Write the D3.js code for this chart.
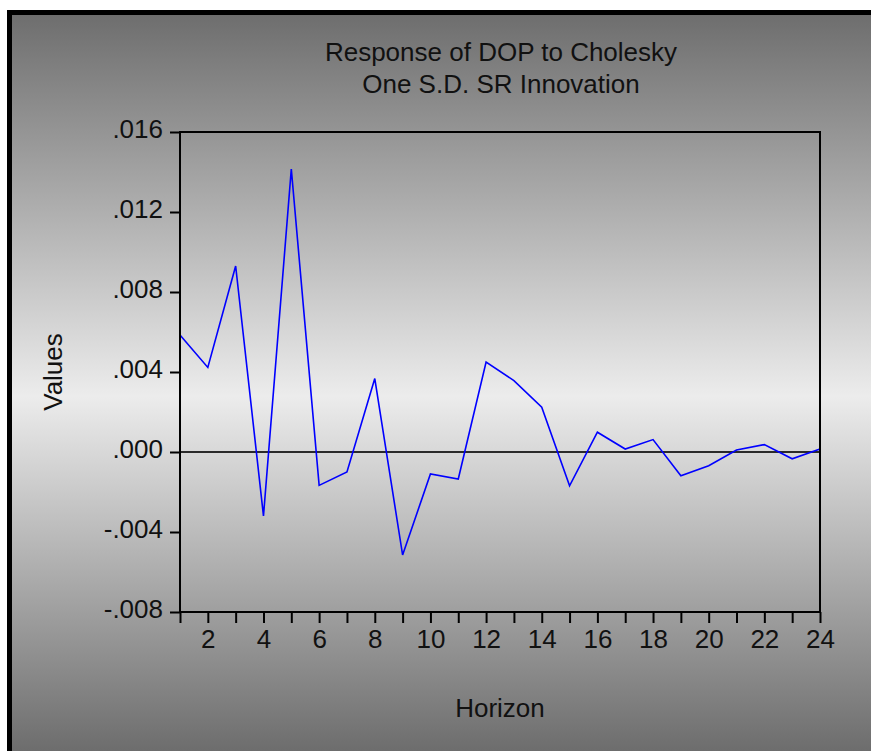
<!DOCTYPE html>
<html>
<head>
<meta charset="utf-8">
<script src="https://cdn.jsdelivr.net/npm/d3@7/dist/d3.min.js"></script>
<style>
  html, body { margin: 0; padding: 0; background: #ffffff; }
  svg { display: block; }
  text { font-family: "Liberation Sans", Arial, sans-serif; fill: #111; }
</style>
</head>
<body>
<svg id="chart" width="871" height="751"></svg>
<script>
// Impulse response of DOP to a one S.D. SR shock, horizons 1..24
const horizons = d3.range(1, 25);
const responses = [
  0.00585, 0.00423, 0.0093, -0.0032, 0.01415, -0.00167, -0.0010, 0.00367,
  -0.00515, -0.0011, -0.00135, 0.0045, 0.00357, 0.00224, -0.00169, 0.00099,
  0.00015, 0.00062, -0.00119, -0.00069, 0.0001, 0.00037, -0.00034, 0.00015
];
const yTicks = [-0.008, -0.004, 0, 0.004, 0.008, 0.012, 0.016];
const xLabelTicks = [2, 4, 6, 8, 10, 12, 14, 16, 18, 20, 22, 24];
const titleLines = ["Response of DOP to Cholesky", "One S.D. SR Innovation"];
const xTitle = "Horizon";
const yTitle = "Values";

const svg = d3.select("#chart");
const W = 871, H = 751;
const FS = 26;

// grey panel with vertical gradient (dark - light - dark)
const defs = svg.append("defs");
const grad = defs.append("linearGradient")
  .attr("id", "panelGrad")
  .attr("gradientUnits", "userSpaceOnUse")
  .attr("x1", 0).attr("y1", 12).attr("x2", 0).attr("y2", 751);
grad.append("stop").attr("offset", "0%").attr("stop-color", "#6d6d6d");
grad.append("stop").attr("offset", "52%").attr("stop-color", "#ececec");
grad.append("stop").attr("offset", "100%").attr("stop-color", "#6d6d6d");

svg.append("rect")
  .attr("x", 7).attr("y", 10).attr("width", W).attr("height", H)
  .attr("fill", "#000");
svg.append("rect")
  .attr("x", 12).attr("y", 15).attr("width", W).attr("height", H)
  .attr("fill", "url(#panelGrad)");

// plot frame
const plot = { left: 180, right: 820, top: 132, bottom: 612 };

const x = d3.scaleLinear().domain([1, 24]).range([plot.left, plot.right]);
const y = d3.scaleLinear().domain([-0.008, 0.016]).range([plot.bottom, plot.top]);

const fmt = v => {
  if (v === 0) return ".000";
  const s = d3.format(".3f")(Math.abs(v)).replace(/^0/, "");
  return (v < 0 ? "-" : "") + s;
};

// y axis
const yAxis = d3.axisLeft(y).tickValues(yTicks).tickFormat(fmt).tickSize(10).tickPadding(7);
const gy = svg.append("g").attr("transform", `translate(${plot.left},0)`).call(yAxis);
gy.select(".domain").remove();
gy.selectAll(".tick line").attr("stroke", "#000").attr("stroke-width", 2);
gy.selectAll(".tick text")
  .attr("font-size", FS)
  .attr("font-family", "Liberation Sans, Arial, sans-serif")
  .attr("fill", "#111")
  .attr("dy", "0.2em");

// x axis: tick at every horizon, labels every two
const xAxis = d3.axisBottom(x).tickValues(horizons)
  .tickFormat(d => xLabelTicks.includes(d) ? d : "")
  .tickSize(11).tickPadding(7);
const gx = svg.append("g").attr("transform", `translate(0,${plot.bottom})`).call(xAxis);
gx.select(".domain").remove();
gx.selectAll(".tick line").attr("stroke", "#000").attr("stroke-width", 2);
gx.selectAll(".tick text")
  .attr("font-size", FS)
  .attr("font-family", "Liberation Sans, Arial, sans-serif")
  .attr("fill", "#111");

// zero reference line
svg.append("line")
  .attr("x1", plot.left).attr("x2", plot.right)
  .attr("y1", y(0)).attr("y2", y(0))
  .attr("stroke", "#2a2a2a").attr("stroke-width", 2);

// response line
const line = d3.line().x((d, i) => x(horizons[i])).y(d => y(d));
svg.append("path")
  .datum(responses)
  .attr("d", line)
  .attr("fill", "none")
  .attr("stroke", "#0000ff")
  .attr("stroke-width", 1.6)
  .attr("stroke-linejoin", "miter");

// frame box
svg.append("rect")
  .attr("x", plot.left).attr("y", plot.top)
  .attr("width", plot.right - plot.left).attr("height", plot.bottom - plot.top)
  .attr("fill", "none").attr("stroke", "#000").attr("stroke-width", 2);

// titles
const cx = (plot.left + plot.right) / 2;
svg.selectAll(".title")
  .data(titleLines)
  .enter().append("text")
  .attr("class", "title")
  .attr("x", cx + 1)
  .attr("y", (d, i) => 61 + i * 32)
  .attr("text-anchor", "middle")
  .attr("font-size", FS)
  .text(d => d);

svg.append("text")
  .attr("x", cx).attr("y", 717)
  .attr("text-anchor", "middle")
  .attr("font-size", FS)
  .text(xTitle);

svg.append("text")
  .attr("transform", `translate(62,${(plot.top + plot.bottom) / 2}) rotate(-90)`)
  .attr("text-anchor", "middle")
  .attr("font-size", FS)
  .text(yTitle);
</script>
</body>
</html>
